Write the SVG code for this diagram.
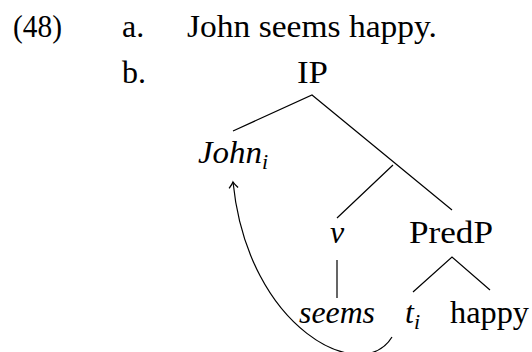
<svg xmlns="http://www.w3.org/2000/svg" width="532" height="352" viewBox="0 0 532 352">
<defs>
<style>
.t{font-family:'Liberation Serif','Times New Roman',serif;font-size:32px;fill:#000}
.it{font-style:italic}
.sub{font-size:22px;font-style:italic}
.e{stroke:#000;stroke-width:1.2;fill:none}
</style>
<marker id="arr" viewBox="-8 -6 10 12" markerWidth="10" markerHeight="12" refX="0" refY="0" orient="auto" markerUnits="userSpaceOnUse">
<path d="M-6,-4.5 Q-2,-1 0,0 Q-2,1 -6,4.5" stroke="#000" stroke-width="1.3" fill="none"/>
</marker>
</defs>
<g id="labels">
<text class="t" x="13" y="37" textLength="49" lengthAdjust="spacingAndGlyphs">(48)</text>
<text class="t" x="122" y="37">a.</text>
<text class="t" x="187" y="37" textLength="250" lengthAdjust="spacingAndGlyphs">John seems happy.</text>
<text class="t" x="122" y="83">b.</text>
</g>
<g id="IP"><text class="t" x="297" y="83" textLength="31" lengthAdjust="spacingAndGlyphs">IP</text></g>
<g id="John"><text class="t it" x="198" y="163" textLength="64" lengthAdjust="spacingAndGlyphs">John</text><text class="t sub" x="262" y="169">i</text></g>
<g id="v"><text class="t it" x="330" y="243">v</text></g>
<g id="PredP"><text class="t" x="409" y="243" textLength="84" lengthAdjust="spacingAndGlyphs">PredP</text></g>
<g id="seems"><text class="t it" x="299" y="323" textLength="76" lengthAdjust="spacingAndGlyphs">seems</text></g>
<g id="t"><text class="t it" x="405" y="323">t</text><text class="t sub" x="414" y="329">i</text></g>
<g id="happy"><text class="t" x="450" y="323" textLength="79" lengthAdjust="spacingAndGlyphs">happy</text></g>
<g id="connectors">
<path class="e" d="M233,131 L312,95 L452,210 M393,165 L337,218 M337,260 V298 M413,292 L452,257 L490,290"/>
<path class="e" d="M392,337 C362,386 248,330 233,182" marker-end="url(#arr)"/>
</g>
</svg>
